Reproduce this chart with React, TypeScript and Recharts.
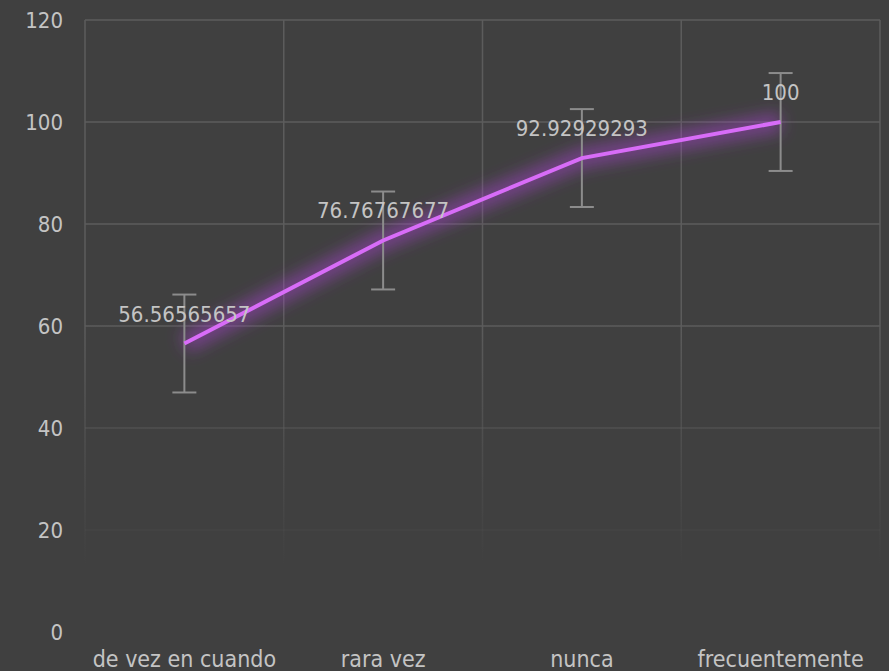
import { LineChart, Line, XAxis, YAxis, CartesianGrid, ErrorBar, LabelList } from "recharts";

const categories = ["de vez en cuando", "rara vez", "nunca", "frecuentemente"];
const values = [56.56565657, 76.76767677, 92.92929293, 100];
const errors = [9.6, 9.6, 9.6, 9.6];
const yTicks = [0, 20, 40, 60, 80, 100, 120];

const data = categories.map((name, i) => ({ name, value: values[i], err: errors[i] }));

const FONT = '"DejaVu Sans Condensed", "DejaVu Sans", sans-serif';
const TEXT = "#c4c4c4";

export default function App() {
  return (
    <div style={{ position: "fixed", top: 0, left: 0, width: 889, height: 671, background: "#404040" }}>
      <LineChart width={889} height={671} data={data} margin={{ top: 20, right: 9, bottom: 0, left: 0 }}>
        <defs>
          <linearGradient id="gridFade" gradientUnits="userSpaceOnUse" x1="0" y1="20" x2="0" y2="565">
            <stop offset="0" stopColor="#5c5c5c" stopOpacity={1} />
            <stop offset="0.55" stopColor="#5c5c5c" stopOpacity={1} />
            <stop offset="1" stopColor="#5c5c5c" stopOpacity={0} />
          </linearGradient>
          <filter id="glow" x="-20%" y="-50%" width="140%" height="200%">
            <feGaussianBlur stdDeviation="8" />
          </filter>
        </defs>
        <CartesianGrid
          stroke="url(#gridFade)"
          strokeWidth={1.5}
          verticalCoordinatesGenerator={({ offset }: any) =>
            [0, 1, 2, 3, 4].map((i) => offset.left + (i * offset.width) / categories.length)
          }
        />
        <XAxis
          dataKey="name"
          scale="band"
          axisLine={false}
          tickLine={false}
          tickSize={0}
          tickMargin={19}
          height={39}
          interval={0}
          tick={{ fill: TEXT, fontSize: 23, fontFamily: FONT }}
        />
        <YAxis
          domain={[0, 120]}
          ticks={yTicks}
          axisLine={false}
          tickLine={false}
          tickSize={0}
          tickMargin={22}
          width={85}
          tick={{ fill: TEXT, fontSize: 22, fontFamily: FONT }}
        />
        <Line
          dataKey="value"
          stroke="#a844d0"
          strokeOpacity={0.5}
          strokeWidth={20}
          dot={false}
          activeDot={false}
          style={{ filter: "url(#glow)" }}
          isAnimationActive={false}
        />
        <Line
          dataKey="value"
          stroke="#d86cf8"
          strokeWidth={4}
          dot={false}
          activeDot={false}
          isAnimationActive={false}
        >
          <ErrorBar dataKey="err" direction="y" width={12} stroke="#8c8c8c" strokeWidth={2} />
          <LabelList
            dataKey="value"
            position="top"
            offset={22}
            fill={TEXT}
            fontSize={22}
            fontFamily={FONT}
          />
        </Line>
      </LineChart>
    </div>
  );
}
